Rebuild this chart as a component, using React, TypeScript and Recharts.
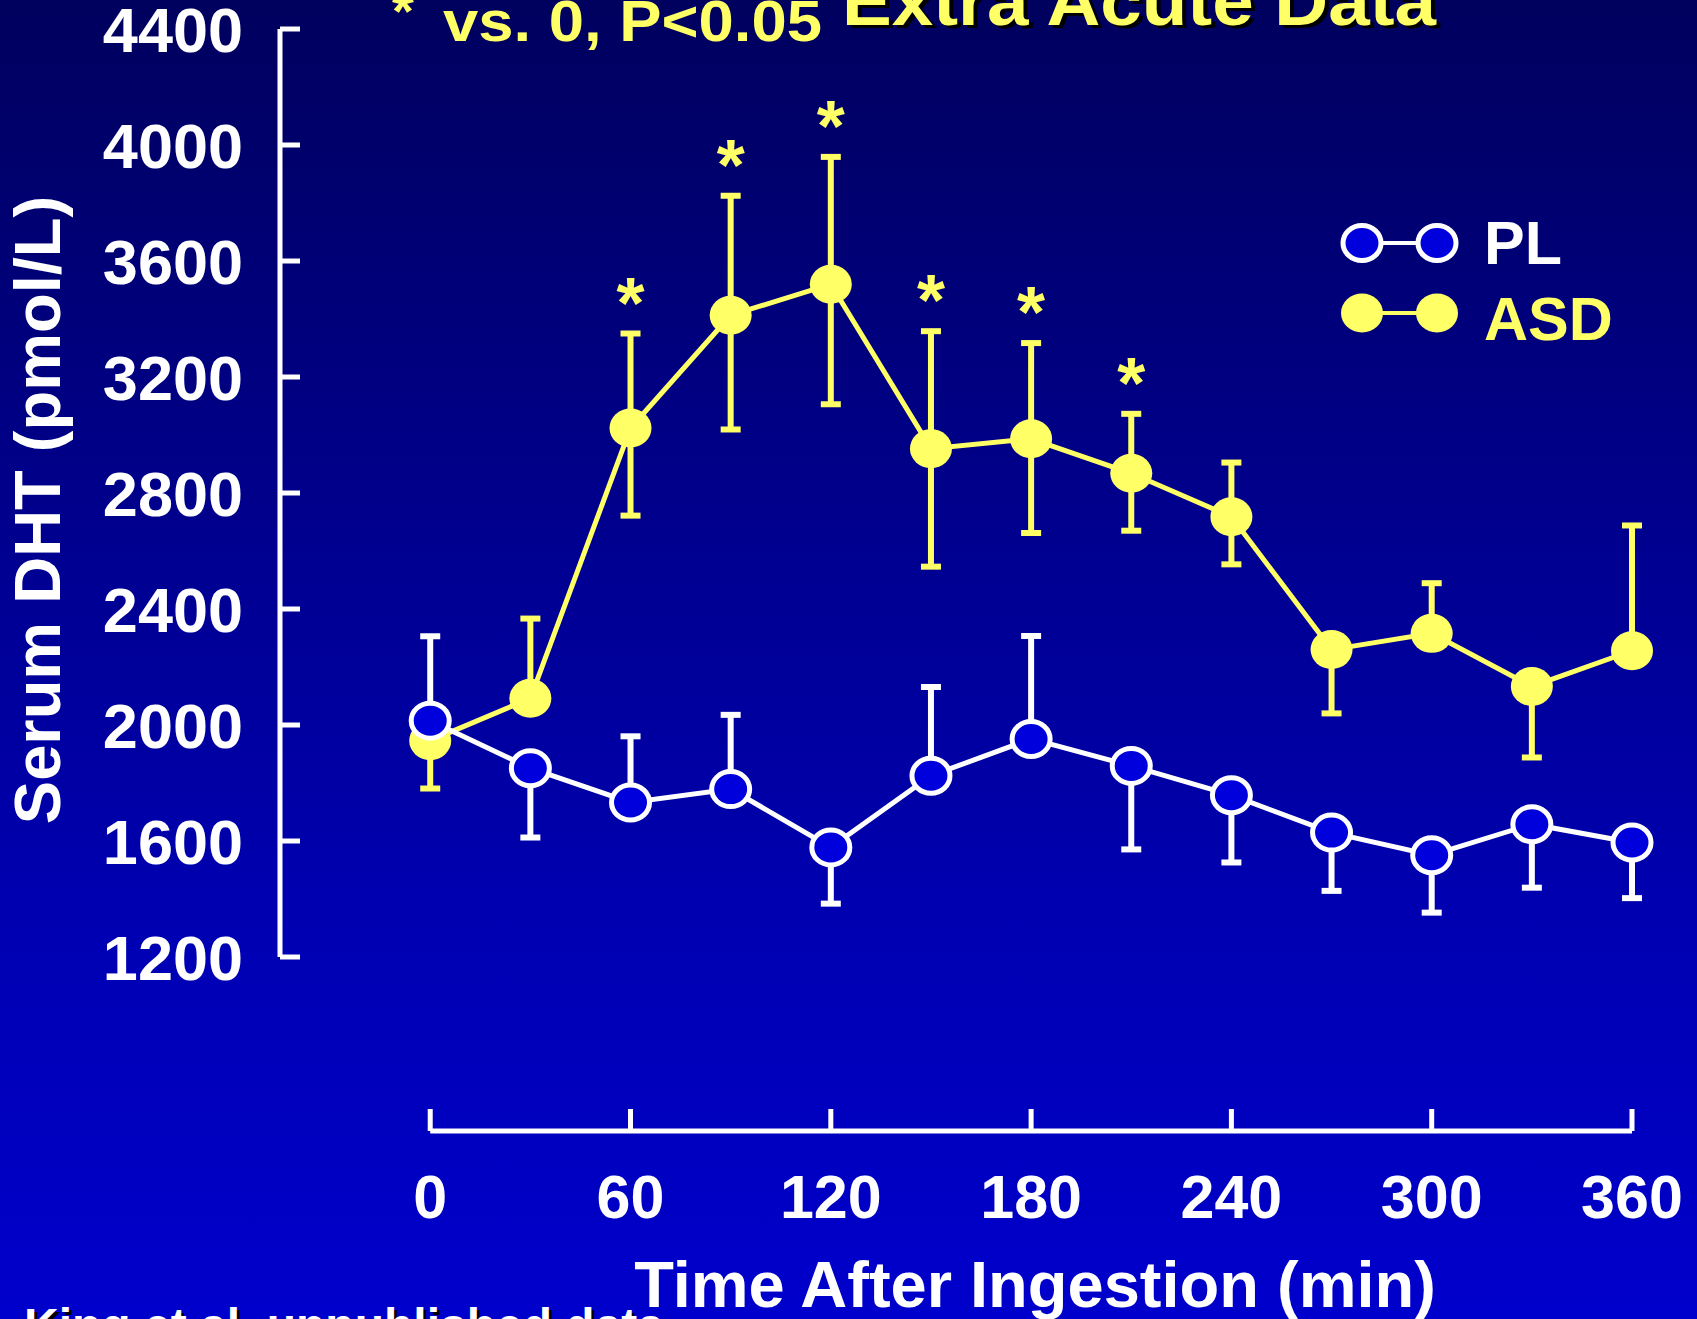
import React from "react";
import { ComposedChart, Line, XAxis, YAxis, ErrorBar, ReferenceLine } from "recharts";

const times = [0, 30, 60, 90, 120, 150, 180, 210, 240, 270, 300, 330, 360];
const plValues = [2015, 1851, 1733, 1779, 1578, 1825, 1952, 1859, 1758, 1629, 1551, 1658, 1595];
// [below, above] – 0 where that half of the bar isn't drawn
const plErrors = [
  [0, 291], [239, 0], [0, 228], [0, 256], [194, 0], [0, 306], [0, 355],
  [288, 0], [232, 0], [201, 0], [198, 0], [219, 0], [192, 0],
];
const asdValues = [1946, 2092, 3024, 3413, 3520, 2953, 2987, 2868, 2718, 2260, 2316, 2133, 2256];
const asdErrors = [
  [165, 0], [0, 275], [302, 326], [394, 412], [414, 439], [407, 405], [325, 330],
  [198, 205], [164, 187], [220, 0], [0, 173], [245, 0], [0, 432],
];
const significant = [false, false, true, true, true, true, true, true, false, false, false, false, false];

const yTicks = [1200, 1600, 2000, 2400, 2800, 3200, 3600, 4000, 4400];
const xTicks = [0, 60, 120, 180, 240, 300, 360];

const W = 1697;
const H = 1319;
const FONT = "'Liberation Sans', Arial, Helvetica, sans-serif";
const YELLOW = "#FFFF66";
const WHITE = "#FFFFFF";
const DOT_BLUE = "#0000DD";

const data = times.map((t, i) => ({
  t,
  pl: plValues[i],
  plErr: plErrors[i],
  asd: asdValues[i],
  asdErr: asdErrors[i],
  sig: significant[i],
  star: significant[i] ? asdValues[i] + asdErrors[i][1] : null,
}));

const series = [
  { name: "PL", color: WHITE, fill: DOT_BLUE },
  { name: "ASD", color: YELLOW, fill: YELLOW },
];

function PlDot(props: any) {
  const { cx, cy } = props;
  if (cx == null || cy == null) return <g />;
  return <ellipse cx={cx} cy={cy} rx={19} ry={17.5} fill={DOT_BLUE} stroke={WHITE} strokeWidth={5} />;
}

function AsdDot(props: any) {
  const { cx, cy } = props;
  if (cx == null || cy == null) return <g />;
  return <ellipse cx={cx} cy={cy} rx={21} ry={19.5} fill={YELLOW} />;
}

function StarMark(props: any) {
  const { cx, cy, payload } = props;
  if (!payload || !payload.sig || cy == null) return <g />;
  return (
    <text x={cx} y={cy - 6} textAnchor="middle" fill={YELLOW} fontSize={72} fontWeight="bold" fontFamily={FONT}>
      *
    </text>
  );
}

function YTick(props: any) {
  const { x, y, payload } = props;
  return (
    <g>
      <line x1={x} y1={y} x2={x + 20} y2={y} stroke={WHITE} strokeWidth={5} />
      <text x={x - 37} y={y + 23} textAnchor="end" fill={WHITE} fontSize={63} fontWeight="bold" fontFamily={FONT}>
        {payload.value}
      </text>
    </g>
  );
}

function XTick(props: any) {
  const { x, y, payload } = props;
  return (
    <g>
      <line x1={x} y1={y} x2={x} y2={y - 22} stroke={WHITE} strokeWidth={5} />
      <text x={x} y={y + 87} textAnchor="middle" fill={WHITE} fontSize={61} fontWeight="bold" fontFamily={FONT}>
        {payload.value}
      </text>
    </g>
  );
}

function Overlay() {
  return (
    <svg width={W} height={H} style={{ position: "absolute", left: 0, top: 0, pointerEvents: "none" }}>
      {/* title, cut by the top edge */}
      <text x={846} y={28} fill="#000000" fontSize={68} fontWeight="bold" fontFamily={FONT} textLength={594} lengthAdjust="spacingAndGlyphs">
        Extra Acute Data
      </text>
      <text x={842} y={25} fill={YELLOW} fontSize={68} fontWeight="bold" fontFamily={FONT} textLength={594} lengthAdjust="spacingAndGlyphs">
        Extra Acute Data
      </text>
      <text x={403} y={30} textAnchor="middle" fill={YELLOW} fontSize={56} fontWeight="bold" fontFamily={FONT}>
        *
      </text>
      <text x={443} y={41} fill={YELLOW} fontSize={57} fontWeight="bold" fontFamily={FONT} textLength={379} lengthAdjust="spacingAndGlyphs">
        vs. 0, P&lt;0.05
      </text>

      <text
        x={60}
        y={510}
        transform="rotate(-90, 60, 510)"
        textAnchor="middle"
        fill={WHITE}
        fontSize={65}
        fontWeight="bold"
        fontFamily={FONT}
      >
        Serum DHT (pmol/L)
      </text>
      <text x={1035} y={1307} textAnchor="middle" fill={WHITE} fontSize={65} fontWeight="bold" fontFamily={FONT}>
        Time After Ingestion (min)
      </text>

      <text x={27} y={1345} fill="#000000" fontSize={48} fontWeight="bold" fontFamily={FONT}>
        King et al. unpublished data
      </text>
      <text x={24} y={1342} fill={WHITE} fontSize={48} fontWeight="bold" fontFamily={FONT}>
        King et al. unpublished data
      </text>

      {series.map((s, i) => {
        const cy = 243 + i * 70;
        return (
          <g key={s.name}>
            <line x1={1362} y1={cy} x2={1437} y2={cy} stroke={s.color} strokeWidth={4} />
            {s.name === "PL" ? (
              <>
                <ellipse cx={1362} cy={cy} rx={19} ry={17.5} fill={s.fill} stroke={WHITE} strokeWidth={5} />
                <ellipse cx={1437} cy={cy} rx={19} ry={17.5} fill={s.fill} stroke={WHITE} strokeWidth={5} />
              </>
            ) : (
              <>
                <ellipse cx={1362} cy={cy} rx={21} ry={19.5} fill={s.fill} />
                <ellipse cx={1437} cy={cy} rx={21} ry={19.5} fill={s.fill} />
              </>
            )}
            <text x={1484} y={cy + 21 + i * 6} fill={s.color} fontSize={61} fontWeight="bold" fontFamily={FONT}>
              {s.name}
            </text>
          </g>
        );
      })}
    </svg>
  );
}

export default function App() {
  return (
    <div
      style={{
        position: "absolute",
        left: 0,
        top: 0,
        width: W,
        height: H,
        overflow: "hidden",
        background: "linear-gradient(to bottom, #00005E 0%, #000088 35%, #0000B2 70%, #0000CC 100%)",
      }}
    >
      <ComposedChart width={W} height={H} data={data} margin={{ top: 29, right: 65, bottom: 88, left: 80 }}>
        <XAxis
          dataKey="t"
          type="number"
          domain={[-45, 360]}
          ticks={xTicks}
          axisLine={false}
          tickLine={false}
          tickSize={0}
          tickMargin={0}
          height={100}
          tick={<XTick />}
          interval={0}
        />
        <YAxis
          type="number"
          domain={[600, 4400]}
          ticks={yTicks}
          axisLine={false}
          tickLine={false}
          tickSize={0}
          tickMargin={0}
          width={200}
          tick={<YTick />}
          interval={0}
        />
        <ReferenceLine segment={[{ x: -45, y: 1200 }, { x: -45, y: 4400 }]} stroke={WHITE} strokeWidth={5} />
        <ReferenceLine segment={[{ x: 0, y: 600 }, { x: 360, y: 600 }]} stroke={WHITE} strokeWidth={5} />

        <Line dataKey="asd" stroke={YELLOW} strokeWidth={5} dot={<AsdDot />} isAnimationActive={false}>
          <ErrorBar dataKey="asdErr" direction="y" width={10} stroke={YELLOW} strokeWidth={6} />
        </Line>
        <Line dataKey="pl" stroke={WHITE} strokeWidth={5} dot={<PlDot />} isAnimationActive={false}>
          <ErrorBar dataKey="plErr" direction="y" width={10} stroke={WHITE} strokeWidth={6} />
        </Line>
        <Line dataKey="star" stroke="none" dot={<StarMark />} isAnimationActive={false} />
      </ComposedChart>
      <Overlay />
    </div>
  );
}
